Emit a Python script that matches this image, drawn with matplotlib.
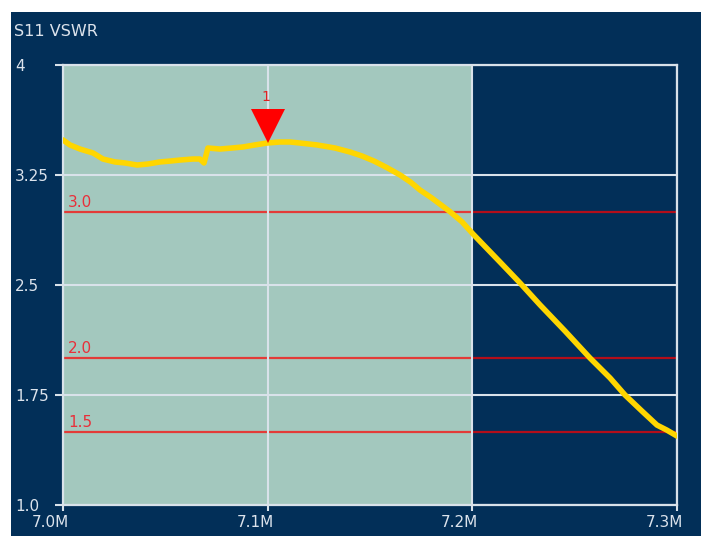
import matplotlib
matplotlib.use("Agg")
import matplotlib.pyplot as plt
from matplotlib.patches import Rectangle
from matplotlib.transforms import ScaledTranslation, offset_copy

# ---- data ----
freq_mhz = [7.000, 7.0034, 7.0083, 7.0147, 7.0195, 7.0254, 7.0303, 7.0362, 7.0415,
            7.0474, 7.0523, 7.0572, 7.0635, 7.0669, 7.0689, 7.0708, 7.0767, 7.0826,
            7.0879, 7.0938, 7.0997, 7.1060, 7.1109, 7.1158, 7.1241, 7.1329, 7.1402,
            7.1460, 7.1520, 7.1583, 7.1647, 7.1700, 7.1744, 7.1800, 7.1891, 7.1950,
            7.2003, 7.2135, 7.2233, 7.2331, 7.2453, 7.2575, 7.2673, 7.2746, 7.2829,
            7.2902, 7.2950, 7.3000]
vswr = [3.489, 3.455, 3.427, 3.400, 3.359, 3.339, 3.332, 3.318, 3.325,
        3.339, 3.345, 3.352, 3.359, 3.359, 3.332, 3.434, 3.427, 3.434,
        3.441, 3.455, 3.468, 3.475, 3.475, 3.468, 3.455, 3.434, 3.407,
        3.380, 3.345, 3.300, 3.250, 3.200, 3.148, 3.095, 3.000, 2.930,
        2.848, 2.657, 2.514, 2.364, 2.186, 2.002, 1.866, 1.750, 1.640,
        1.545, 1.511, 1.470]
x_ticks = [7.0, 7.1, 7.2, 7.3]
x_tick_labels = ["7.0M", "7.1M", "7.2M", "7.3M"]
y_ticks = [1.0, 1.75, 2.5, 3.25, 4.0]
y_tick_labels = ["1.0", "1.75", "2.5", "3.25", "4"]
ref_levels = [3.0, 2.0, 1.5]
ref_labels = ["3.0", "2.0", "1.5"]
band_start, band_end = 7.0, 7.2
marker_freq = 7.1
marker_vswr = 3.468
marker_label = "1"
title = "S11 VSWR"

# ---- style ----
W, H = 703, 536
navy = "#022F58"
mint = "#A3C8BE"
grid_c = "#D9E2EA"
text_c = "#DCE3EC"
red = "#FF0000"

fig = plt.figure(figsize=(W / 100, H / 100), dpi=100)
fig.patch.set_facecolor("white")
bg = Rectangle((11 / W, 0), 690 / W, (H - 12) / H,
               transform=fig.transFigure, facecolor=navy,
               edgecolor="none", zorder=-10)
fig.patches.append(bg)

ax = fig.add_axes([63 / W, 1 - 505 / H, (677 - 63) / W, (505 - 65) / H])
ax.set_zorder(1)
ax.set_facecolor(navy)
ax.set_xlim(7.0, 7.3)
ax.set_ylim(1.0, 4.0)

ax.axvspan(band_start, band_end, color=mint, zorder=0.5, lw=0)

for s in ax.spines.values():
    s.set_color(grid_c)
    s.set_linewidth(1.6)

ax.set_xticks(x_ticks)
ax.set_xticklabels(x_tick_labels)
ax.set_yticks(y_ticks)
ax.set_yticklabels(y_tick_labels)
ax.grid(True, color=grid_c, lw=1.5, zorder=1)
ax.set_axisbelow(False)

ax.tick_params(axis="y", direction="out", length=6, width=1.5, color=grid_c,
               labelcolor=text_c, labelsize=11, pad=28.5)
ax.tick_params(axis="x", direction="out", length=4, width=1.5, color=grid_c,
               labelcolor=text_c, labelsize=11, pad=3.5)
for lab in ax.get_yticklabels():
    lab.set_horizontalalignment("left")
for lab in ax.get_xticklabels():
    lab.set_horizontalalignment("right")
    lab.set_transform(lab.get_transform() + ScaledTranslation(6 / 100, 0, fig.dpi_scale_trans))

for lvl, lab in zip(ref_levels, ref_labels):
    ax.axhline(lvl, color=red, alpha=0.7, lw=1.6, zorder=2)
    ax.annotate(lab, xy=(7.0, lvl), xytext=(5, 2), textcoords="offset pixels",
                color="#E8303A", fontsize=11, ha="left", va="bottom", zorder=3)

ax.plot(freq_mhz, vswr, color="#FFD600", lw=4, solid_capstyle="round",
        solid_joinstyle="round", zorder=4)

ms = 25
tr = offset_copy(ax.transData, fig=fig, y=ms / 2, units="points")
ax.plot([marker_freq], [marker_vswr], marker="v", markersize=ms, color="#FF0000",
        markeredgewidth=0, transform=tr, zorder=5, clip_on=False)
ax.annotate(marker_label, xy=(marker_freq, marker_vswr), xytext=(-1.5, 28),
            textcoords="offset points", color="#E02020", fontsize=10,
            ha="center", va="bottom", zorder=6)

fig.text(14 / W, 1 - 31 / H, title, color=text_c, fontsize=11.5, ha="left", va="center")

fig.savefig("out.png", dpi=100, facecolor=fig.get_facecolor())
